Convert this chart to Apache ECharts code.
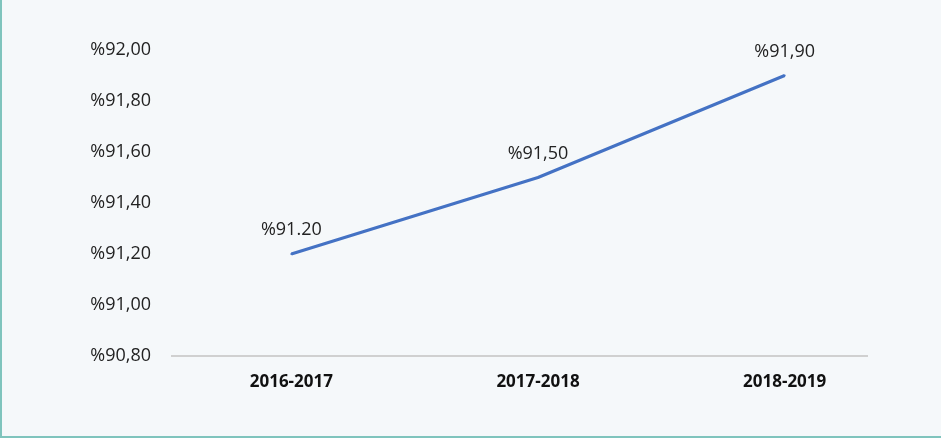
<!DOCTYPE html>
<html>
<head>
<meta charset="utf-8">
<script src="https://cdn.jsdelivr.net/npm/echarts@6/dist/echarts.min.js"></script>
<style>
html, body { margin: 0; padding: 0; background: #fff; }
#box {
	width: 941px;
	height: 438px;
	box-sizing: border-box;
	background: #f5f8fa;
	border-left: 2px solid #7fc4bd;
	border-bottom: 2px solid #7fc4bd;
}
</style>
</head>
<body>
<div id="box"></div>
<script>
// 数据
const categories = ["2016-2017", "2017-2018", "2018-2019"]
const values = [91.2, 91.5, 91.9]
const pointLabels = ["%91.20", "%91,50", "%91,90"]
const yMin = 90.8
const yMax = 92.0
const yStep = 0.2

let myCharts = echarts.init(document.getElementById("box"))
let option = {
	animation: false,
	grid: { left: 166, right: 33, top: 50, bottom: 80 },
	xAxis: {
		type: "category",
		data: categories,
		axisLine: { show: false },
		axisTick: { show: false },
		axisLabel: {
			fontFamily: "Open Sans",
			fontWeight: "bold",
			fontSize: 17,
			color: "#111",
			margin: 18,
		},
	},
	yAxis: {
		type: "value",
		min: yMin,
		max: yMax,
		interval: yStep,
		splitLine: { show: false },
		axisLabel: {
			fontFamily: "Open Sans",
			fontSize: 18,
			color: "#222",
			margin: 17,
			formatter: (v) => "%" + v.toFixed(2).replace(".", ","),
		},
	},
	series: [
		{
			type: "line",
			data: values,
			symbol: "circle",
			symbolSize: 2,
			itemStyle: { color: "#4472c4" },
			lineStyle: { color: "#4472c4", width: 3 },
			label: {
				show: true,
				position: "top",
				distance: 14,
				fontFamily: "Open Sans",
				fontSize: 18,
				color: "#222",
				formatter: (p) => pointLabels[p.dataIndex],
			},
		},
	],
}
myCharts.setOption(option)
// 底部轴线（比类目区域短）
let yBase = myCharts.convertToPixel({ yAxisIndex: 0 }, yMin)
myCharts.setOption({
	graphic: [
		{
			type: "line",
			shape: { x1: 169, y1: yBase, x2: 866, y2: yBase },
			style: { stroke: "#d0d0d0", lineWidth: 2 },
			z: 0,
		},
	],
})
</script>
</body>
</html>
